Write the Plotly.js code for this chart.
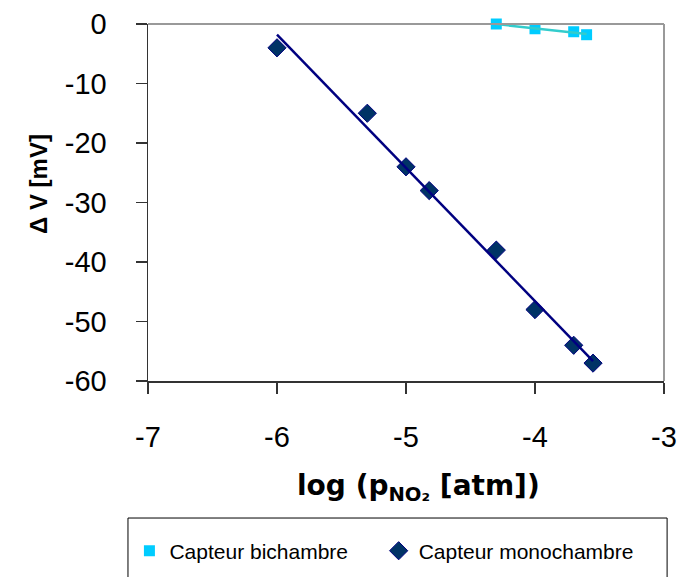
<!DOCTYPE html>
<html>
<head>
<meta charset="utf-8">
<script src="https://cdn.plot.ly/plotly-3.0.1.min.js"></script>
<style>html,body{margin:0;padding:0;background:#fff;}#chart{width:682px;height:577px;}</style>
</head>
<body>
<div id="chart"></div>
<script>
// Data
var biX = [-4.3, -4.0, -3.7, -3.6];
var biY = [0, -0.8, -1.3, -1.8];
var monoX = [-6.0, -5.3, -5.0, -4.82, -4.3, -4.0, -3.7, -3.55];
var monoY = [-4, -15, -24, -28, -38, -48, -54, -57];
var seriesNames = ['Capteur bichambre', 'Capteur monochambre'];
var xTicks = [-7, -6, -5, -4, -3];
var yTicks = [0, -10, -20, -30, -40, -50, -60];
var xTitle = 'log (p<sub>NO₂</sub> [atm])';
var yTitle = 'Δ V [mV]';

// least-squares trend line over the data span
function trend(xs, ys) {
  var n = xs.length, mx = 0, my = 0;
  for (var i = 0; i < n; i++) { mx += xs[i]; my += ys[i]; }
  mx /= n; my /= n;
  var sxy = 0, sxx = 0;
  for (var j = 0; j < n; j++) { sxy += (xs[j]-mx)*(ys[j]-my); sxx += (xs[j]-mx)*(xs[j]-mx); }
  var b = sxy / sxx, a = my - b * mx;
  var x0 = Math.min.apply(null, xs), x1 = Math.max.apply(null, xs);
  return {x: [x0, x1], y: [a + b*x0, a + b*x1]};
}
var biFit = trend(biX, biY);
var monoFit = trend(monoX, monoY);

var traces = [
  {x: biX, y: biY, type: 'scatter', mode: 'markers', name: seriesNames[0],
   marker: {symbol: 'square', size: 11, color: '#00CCFF', line: {width: 0}},
   cliponaxis: false, legend: 'legend'},
  {x: monoX, y: monoY, type: 'scatter', mode: 'markers', name: seriesNames[1],
   marker: {symbol: 'diamond', size: 14, color: '#003366', line: {width: 1, color: '#000080'}},
   cliponaxis: false, legend: 'legend2'},
  {x: biFit.x, y: biFit.y, type: 'scatter', mode: 'lines', showlegend: false,
   line: {color: '#33CCCC', width: 2.5}, cliponaxis: false, hoverinfo: 'skip'},
  {x: monoFit.x, y: monoFit.y, type: 'scatter', mode: 'lines', showlegend: false,
   line: {color: '#000080', width: 2.5}, cliponaxis: false, hoverinfo: 'skip'}
];

var tickFont = {family: 'Liberation Sans', size: 29, color: '#000'};
var layout = {
  width: 682, height: 577,
  margin: {l: 148, r: 18, t: 24, b: 196, autoexpand: false},
  paper_bgcolor: '#fff', plot_bgcolor: '#fff',
  showlegend: true,
  xaxis: {
    range: [-7, -3], tickvals: xTicks, ticktext: xTicks.map(String),
    showgrid: false, zeroline: false, showline: true, linecolor: '#333', linewidth: 1.5,
    ticks: 'outside', ticklen: 11, tickwidth: 1.5, tickcolor: '#333',
    tickfont: tickFont, ticklabelstandoff: 19,
    automargin: false
  },
  yaxis: {
    range: [-60, 0], tickvals: yTicks, ticktext: yTicks.map(String),
    showgrid: false, zeroline: false, showline: true, linecolor: '#333', linewidth: 1.5,
    ticks: 'outside', ticklen: 11, tickwidth: 1.5, tickcolor: '#333',
    tickfont: tickFont, ticklabelstandoff: 23,
    automargin: false
  },
  annotations: [
    {text: xTitle, xref: 'paper', yref: 'paper', x: (418 - 148) / 516, y: (381 - 487) / 357,
     xanchor: 'center', yanchor: 'middle', showarrow: false,
     font: {family: 'DejaVu Sans', size: 28, color: '#000', weight: 'bold'}},
    {text: yTitle, xref: 'paper', yref: 'paper', x: (38 - 148) / 516, y: (381 - 184) / 357,
     xanchor: 'center', yanchor: 'middle', showarrow: false, textangle: -90,
     font: {family: 'Liberation Sans', size: 24, color: '#000', weight: 'bold'}}
  ],
  legend: {x: -0.036, xanchor: 'left', y: -0.419, yanchor: 'top', orientation: 'h',
           bgcolor: 'rgba(0,0,0,0)', borderwidth: 0,
           font: {family: 'Liberation Sans', size: 21, color: '#000'}},
  legend2: {x: 0.447, xanchor: 'left', y: -0.419, yanchor: 'top', orientation: 'h',
           bgcolor: 'rgba(0,0,0,0)', borderwidth: 0,
           font: {family: 'Liberation Sans', size: 21, color: '#000'}},
  shapes: [
    {type: 'line', xref: 'paper', yref: 'paper', x0: 0, x1: 1, y0: 1, y1: 1, line: {color: '#999', width: 2}},
    {type: 'line', xref: 'paper', yref: 'paper', x0: 1, x1: 1, y0: 0, y1: 1, line: {color: '#999', width: 2}},
    {type: 'rect', xref: 'paper', yref: 'paper', x0: -0.0388, x1: 1.006, y0: -0.3838, y1: -0.62, line: {color: '#000', width: 1}, fillcolor: 'rgba(0,0,0,0)'}
  ]
};
Plotly.newPlot('chart', traces, layout, {displayModeBar: false, staticPlot: true});
</script>
</body>
</html>
